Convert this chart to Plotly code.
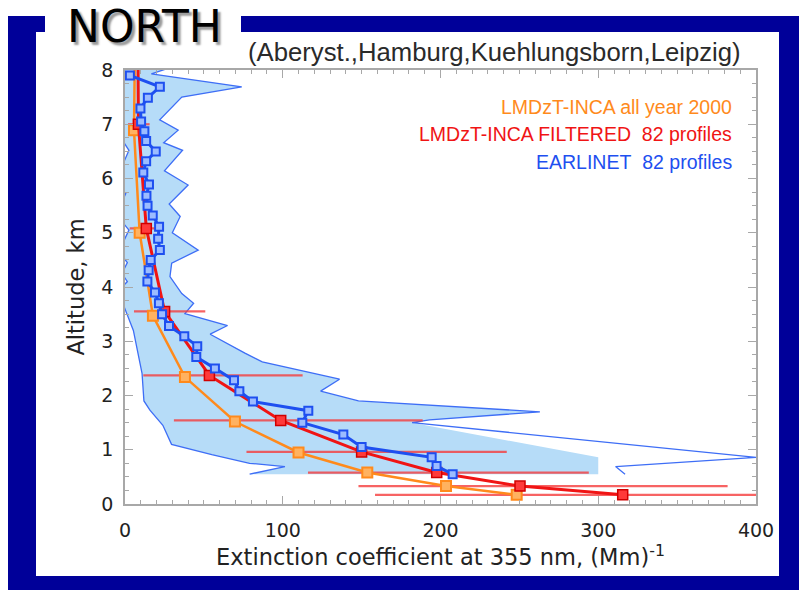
import numpy as np
import plotly.graph_objects as go

# ---------------- data ----------------
# LMDzT-INCA, all year 2000 (model levels, km / extinction, Mm^-1)
inca_year_alt = [0.17, 0.33, 0.58, 0.95, 1.52, 2.34, 3.47, 5.00, 6.89, 9.20]
inca_year_ext = [248.3, 203.5, 153.6, 110.0, 69.7, 38.0, 17.7, 9.3, 5.7, 6.6]

# LMDzT-INCA filtered on the 82 EARLINET profiles, with spread
inca_filt_alt = [0.17, 0.33, 0.58, 0.96, 1.54, 2.37, 3.55, 5.08, 7.00, 9.30]
inca_filt_ext = [315.5, 250.4, 197.6, 150.0, 98.7, 53.5, 25.1, 13.5, 8.5, 8.0]
inca_filt_low = [158.5, 148.0, 116.0, 77.0, 31.0, 11.6, 5.7, 3.0, 1.9, 8.0]
inca_filt_high = [470.0, 382.0, 294.0, 242.0, 188.7, 112.6, 50.9, 23.5, 15.6, 8.0]

# EARLINET mean profile, 82 profiles
earl_alt = [0.55, 0.70, 0.86, 1.05, 1.28, 1.50, 1.72, 1.89, 2.08, 2.28, 2.50,
            2.71, 2.91, 3.09, 3.28, 3.50, 3.70, 3.90, 4.10, 4.31, 4.50, 4.68,
            4.89, 5.11, 5.32, 5.50, 5.68, 5.89, 6.11, 6.32, 6.50, 6.69, 6.87,
            7.05, 7.29, 7.49, 7.69, 7.90]
earl_ext = [207.7, 197.5, 194.4, 150.0, 138.4, 112.4, 116.2, 81.1, 72.5, 69.1,
            57.0, 45.2, 45.8, 37.6, 27.9, 23.5, 21.5, 19.0, 14.2, 15.0, 16.3,
            22.1, 21.0, 21.6, 17.6, 14.3, 13.6, 15.2, 11.6, 13.4, 19.5, 13.4,
            12.3, 10.2, 9.8, 14.5, 22.1, 3.1]

# EARLINET variability envelope: lower and upper bounds
env_low_alt = [0.55, 0.69, 0.75, 0.91, 1.10, 1.45, 1.73, 1.90, 2.41, 3.20, 3.67,
               3.88, 4.10, 4.25, 4.45, 4.65, 5.05, 5.35, 5.72, 5.95, 6.52, 6.90,
               7.50, 8.15]
env_low = [79.0, 101.4, 79.0, 55.0, 29.5, 24.0, 15.8, 12.0, 10.8, 5.3, -1.0,
           -6.0, 1.5, -2.0, 1.5, -4.0, 2.5, -6.0, 0.5, -6.0, 2.5, -6.0, -8.0, -8.0]
env_high_alt = [0.55, 0.69, 0.86, 1.50, 1.55, 1.70, 1.90, 2.08, 2.30, 2.62, 2.78,
                3.13, 3.29, 3.51, 3.70, 3.88, 4.19, 4.44, 4.68, 5.00, 5.30, 5.53,
                5.88, 6.14, 6.52, 6.66, 6.89, 7.08, 7.50, 7.69, 7.93, 8.15]
env_high = [317.0, 311.0, 400.0, 182.0, 193.0, 263.0, 148.0, 124.0, 136.0, 87.0,
            76.0, 54.0, 65.0, 38.0, 43.5, 36.0, 28.5, 29.6, 46.4, 30.0, 35.0, 28.0,
            40.0, 25.0, 36.5, 24.5, 33.7, 22.0, 36.0, 74.0, 16.7, 40.0]
ENV_FILL_CAP = 300.0   # shaded area is limited to this extinction

x_ticks = [0, 100, 200, 300, 400]
y_ticks = [0, 1, 2, 3, 4, 5, 6, 7, 8]

# ---------------- styling ----------------
C_ORANGE = "#FF8A1C"
C_RED = "#F01414"
C_BLUE = "#1E4FF0"
C_ENV_LINE = "#3E6EF6"
C_ENV_FILL = "#B6DCF8"
C_FRAME = "#000099"
C_AXIS = "#A8A8A8"

W, H = 799, 590
L, R, T, B = 125, 756, 70, 504   # plot area in pixels
PW, PH = R - L, B - T


def px(x):
    return (x - L) / PW


def py(y):
    return (B - y) / PH


fig = go.Figure()

# shaded envelope
fill_x = list(env_low) + list(np.minimum(env_high, ENV_FILL_CAP)[::-1])
fill_y = list(env_low_alt) + list(env_high_alt[::-1])
fig.add_trace(go.Scatter(x=fill_x, y=fill_y, mode="lines", fill="toself",
                         fillcolor=C_ENV_FILL, line=dict(width=0),
                         hoverinfo="skip", showlegend=False))
# envelope outlines
for ex, ey in ((env_low, env_low_alt), (env_high, env_high_alt)):
    fig.add_trace(go.Scatter(x=ex, y=ey, mode="lines",
                             line=dict(color=C_ENV_LINE, width=1.3),
                             showlegend=False, hoverinfo="skip"))

# red spread bars
filt_ext = np.array(inca_filt_ext)
fig.add_trace(go.Scatter(
    x=inca_filt_ext, y=inca_filt_alt, mode="markers",
    marker=dict(size=1, color="rgba(0,0,0,0)"),
    error_x=dict(type="data", symmetric=False,
                 array=list(np.array(inca_filt_high) - filt_ext),
                 arrayminus=list(filt_ext - np.array(inca_filt_low)),
                 color="rgba(245,60,60,0.8)", thickness=2.2, width=0),
    showlegend=False, hoverinfo="skip"))

# all-year model profile
fig.add_trace(go.Scatter(
    x=inca_year_ext, y=inca_year_alt, mode="lines+markers",
    line=dict(color=C_ORANGE, width=2.5),
    marker=dict(symbol="square", size=10, color="#FFB260",
                line=dict(color=C_ORANGE, width=2)),
    showlegend=False))

# filtered model profile
fig.add_trace(go.Scatter(
    x=inca_filt_ext, y=inca_filt_alt, mode="lines+markers",
    line=dict(color=C_RED, width=3),
    marker=dict(symbol="square", size=10, color="#FF3A3A",
                line=dict(color="#D00000", width=1.5)),
    showlegend=False))

# EARLINET mean profile
fig.add_trace(go.Scatter(
    x=earl_ext, y=earl_alt, mode="lines+markers",
    line=dict(color=C_BLUE, width=3),
    marker=dict(symbol="square", size=8, color="#9CBCFF",
                line=dict(color=C_BLUE, width=2)),
    showlegend=False))

tick_font = dict(family="DejaVu Sans", size=19, color="#222222")
title_font = dict(family="DejaVu Sans", size=22.5, color="#222222")

fig.update_xaxes(
    range=[0, 400], tickvals=x_ticks, ticktext=[str(v) for v in x_ticks],
    ticks="inside", ticklen=8, tickwidth=1, tickcolor=C_AXIS,
    minor=dict(dtick=10, ticks="inside", ticklen=4, tickcolor=C_AXIS),
    showline=True, linecolor=C_AXIS, linewidth=1.5, mirror="allticks",
    showgrid=False, zeroline=False, tickfont=tick_font, ticklabelstandoff=8,
    title=dict(text="Extinction coefficient at 355 nm, (Mm)<sup>-1</sup>",
               font=title_font, standoff=5))
fig.update_yaxes(
    range=[0, 8], tickvals=y_ticks, ticktext=[str(v) for v in y_ticks],
    ticks="inside", ticklen=8, tickwidth=1, tickcolor=C_AXIS,
    minor=dict(dtick=0.25, ticks="inside", ticklen=4, tickcolor=C_AXIS),
    showline=True, linecolor=C_AXIS, linewidth=1.5, mirror="allticks",
    showgrid=False, zeroline=False, tickfont=tick_font, ticklabelstandoff=6,
    title=dict(text="Altitude, km", font=title_font, standoff=10))

# page frame: dark blue border around a white panel
shapes = [
    dict(type="rect", xref="paper", yref="paper", layer="below",
         x0=px(8), x1=px(W), y0=py(16), y1=py(H),
         fillcolor=C_FRAME, line=dict(width=0)),
    dict(type="rect", xref="paper", yref="paper", layer="below",
         x0=px(36), x1=px(779), y0=py(32), y1=py(576),
         fillcolor="white", line=dict(width=0)),
    dict(type="rect", xref="paper", yref="paper", layer="below",
         x0=px(45), x1=px(241), y0=py(14), y1=py(34),
         fillcolor="white", line=dict(width=0)),
]

legend_lines = [
    ("LMDzT-INCA all year 2000", C_ORANGE, 107),
    ("LMDzT-INCA FILTERED\u00a0\u00a082 profiles", C_RED, 134),
    ("EARLINET\u00a0\u00a082 profiles", C_BLUE, 162),
]
annotations = []
for text, color, ypix in legend_lines:
    annotations.append(dict(
        text=text, x=px(734), y=py(ypix), xref="paper", yref="paper",
        xanchor="right", yanchor="middle", showarrow=False,
        font=dict(family="Liberation Sans", size=19.5, color=color)))

annotations.append(dict(
    text="(Aberyst.,Hamburg,Kuehlungsborn,Leipzig)",
    x=px(494), y=py(52), xref="paper", yref="paper",
    xanchor="center", yanchor="middle", showarrow=False,
    font=dict(family="Liberation Sans", size=25.7, color="#2a2a2a")))

annotations.append(dict(
    text="NORTH", x=px(144), y=py(27), xref="paper", yref="paper",
    xanchor="center", yanchor="middle", showarrow=False,
    font=dict(family="DejaVu Sans", size=44, color="#000000",
              shadow="3px 3px 2px #9a9a9a")))

fig.update_layout(
    width=W, height=H, autosize=False,
    margin=dict(l=L, r=W - R, t=T, b=H - B, pad=0),
    paper_bgcolor="white", plot_bgcolor="white",
    shapes=shapes, annotations=annotations, showlegend=False)

fig.write_html("out.html")
